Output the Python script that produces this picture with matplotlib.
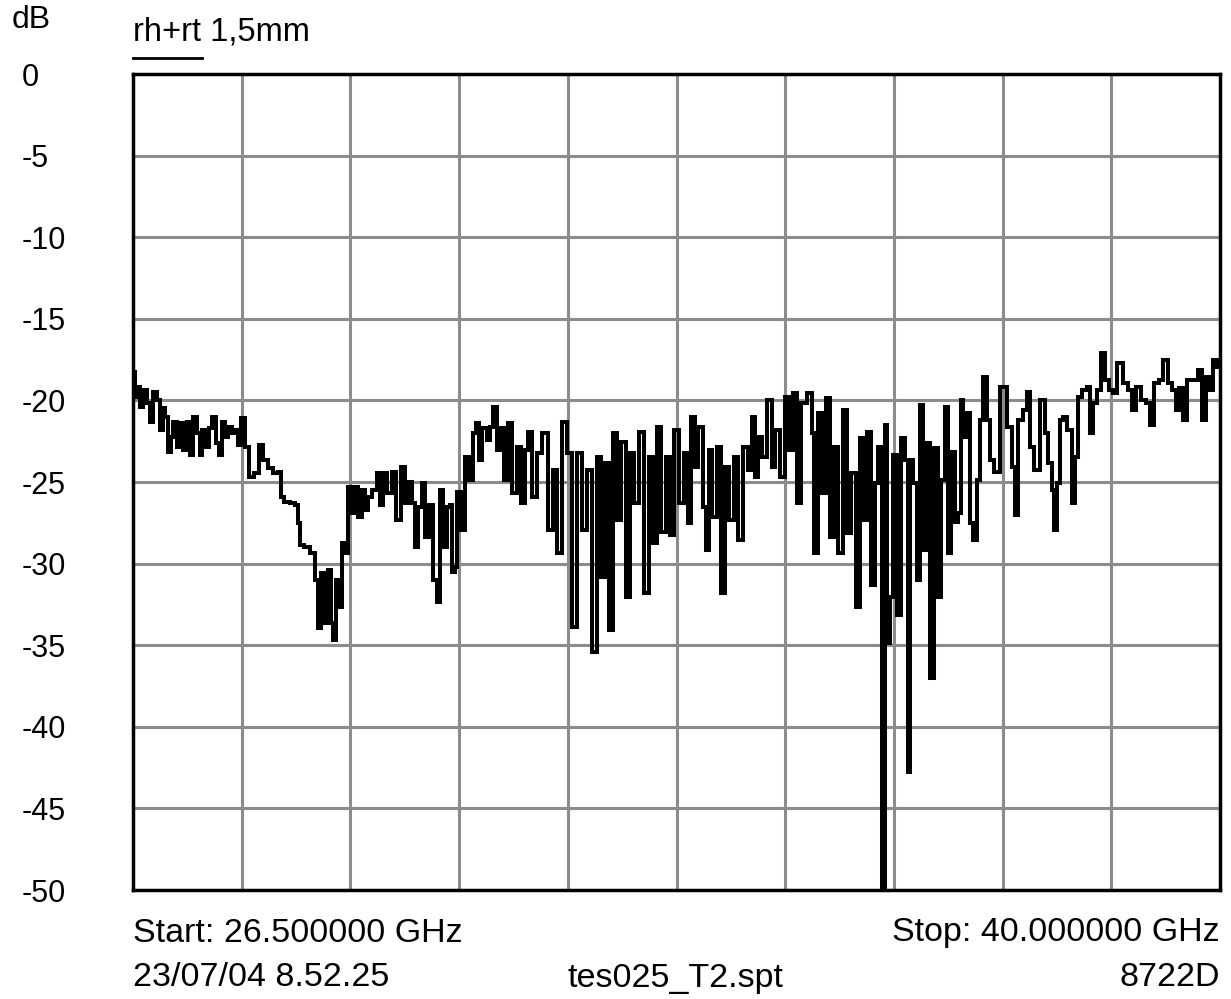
import numpy as np
import matplotlib
matplotlib.use("Agg")
from matplotlib import pyplot as plt

plt.rcParams['font.family'] = ['Liberation Sans', 'DejaVu Sans']

# frekvens (GHz) och nivå (dB)
freq_ghz = [
    26.50, 26.546, 26.567, 26.608, 26.649, 26.691, 26.732, 26.774, 26.815, 26.856,
    26.877, 26.918, 26.952, 26.981, 27.022, 27.063, 27.105, 27.146, 27.188, 27.229,
    27.270, 27.312, 27.341, 27.382, 27.423, 27.465, 27.506, 27.548, 27.581, 27.622,
    27.664, 27.705, 27.746, 27.788, 27.821, 27.871, 27.912, 27.974, 28.036, 28.098,
    28.140, 28.202, 28.264, 28.326, 28.347, 28.409, 28.492, 28.533, 28.574, 28.583,
    28.657, 28.740, 28.781, 28.815, 28.856, 28.897, 28.939, 28.968, 29.009, 29.038,
    29.079, 29.104, 29.154, 29.195, 29.237, 29.278, 29.320, 29.361, 29.402,
    29.443, 29.505, 29.547, 29.588, 29.629, 29.691, 29.733, 29.795, 29.857, 29.898,
    29.940, 29.981, 30.023, 30.064, 30.105, 30.147, 30.209, 30.250, 30.292, 30.333,
    30.375, 30.416, 30.457, 30.478, 30.519, 30.540, 30.602, 30.644, 30.706, 30.747,
    30.776, 30.809, 30.871, 30.913, 30.954, 30.996, 31.037, 31.078, 31.140, 31.182,
    31.244, 31.285, 31.347, 31.389, 31.430, 31.492, 31.554, 31.617, 31.679, 31.741,
    31.803, 31.865, 31.927, 31.989, 32.051, 32.113, 32.175, 32.238, 32.279, 32.341,
    32.382, 32.444,
    32.486, 32.528, 32.590, 32.652, 32.693, 32.755, 32.817, 32.879, 32.942, 32.983,
    33.024, 33.086, 33.149, 33.190, 33.252, 33.314, 33.376, 33.405, 33.459, 33.500,
    33.542, 33.604, 33.633, 33.666, 33.728, 33.770, 33.832, 33.873, 33.935, 33.997,
    34.039, 34.101, 34.163, 34.204, 34.246, 34.287, 34.349, 34.411, 34.453, 34.494,
    34.577, 34.618, 34.680, 34.722, 34.776, 34.825, 34.908, 34.949, 34.978, 35.032,
    35.082, 35.136, 35.177, 35.227, 35.281, 35.343, 35.393, 35.446, 35.508,
    35.550, 35.591, 35.633, 35.695, 35.736, 35.778, 35.819, 35.852, 35.881, 35.923,
    35.964, 36.005, 36.067, 36.109, 36.130, 36.171, 36.212, 36.254, 36.295, 36.337,
    36.378, 36.419, 36.481, 36.510, 36.564, 36.606, 36.635, 36.688, 36.730, 36.771,
    36.792, 36.833, 36.875, 36.916, 36.958, 36.999, 37.040, 37.082, 37.123, 37.165,
    37.227, 37.309, 37.392, 37.434, 37.475, 37.516, 37.579, 37.620, 37.661, 37.723,
    37.805, 37.847, 37.888, 37.930, 37.950, 37.992, 38.033, 38.075, 38.137, 38.178,
    38.219, 38.261, 38.323, 38.364, 38.406, 38.447, 38.489, 38.551, 38.592, 38.654,
    38.696, 38.758, 38.840, 38.882, 38.923, 38.985, 39.047, 39.110, 39.151, 39.213,
    39.275, 39.317, 39.379, 39.441, 39.461, 39.524, 39.565, 39.627, 39.710, 39.751,
    39.813, 39.834, 39.896, 39.937, 39.979, 40.00,
]
level_db = [
    -18.24, -19.77, -19.16, -20.38, -19.36, -20.18, -21.30, -19.46, -19.97, -21.81,
    -20.48, -20.99, -23.14, -22.22, -21.30, -22.83, -21.40, -23.04, -21.30, -23.34,
    -20.99, -22.02, -23.34, -21.81, -22.83, -21.71, -20.99, -22.63, -23.34, -21.30,
    -22.22, -21.61, -22.02, -21.81, -22.73, -21.10, -22.83, -24.67, -24.47, -22.73,
    -23.65, -24.16, -24.47, -24.36, -25.89, -26.20, -26.30, -26.41, -27.53, -28.86,
    -28.96, -29.37, -31.00, -33.96, -30.59, -33.65, -30.39, -33.65, -34.68, -31.00,
    -32.63, -28.75, -29.37, -25.28, -26.92, -25.28, -27.12, -25.49, -26.71,
    -25.89, -25.49, -24.47, -26.41, -24.47, -25.69, -24.36, -27.32, -24.06, -26.30,
    -24.98, -26.30, -28.96, -26.51, -25.08, -28.35, -26.41, -31.00, -32.33, -25.49,
    -28.96, -26.51, -26.41, -30.49, -30.18, -25.59, -27.94, -23.44, -24.87, -22.02,
    -21.40, -23.65, -21.71, -22.42, -21.61, -20.38, -23.04, -21.71, -24.87, -21.40,
    -25.69, -22.83, -26.30, -23.04, -21.91, -25.89, -23.24, -22.02, -27.94, -24.26,
    -29.37, -21.30, -23.24, -33.86, -23.24, -27.94, -24.26, -35.39, -23.44, -30.80,
    -23.85, -34.06,
    -22.02, -27.32, -22.53, -32.02, -23.24, -26.30, -21.91, -31.82, -23.44, -28.75,
    -21.61, -28.04, -23.44, -28.24, -21.81, -26.30, -23.24, -27.53, -20.99, -24.06,
    -21.61, -26.51, -29.16, -23.04, -27.12, -22.83, -31.82, -24.06, -27.32, -23.44,
    -28.55, -22.83, -24.26, -20.99, -24.67, -22.22, -23.44, -19.97, -24.06, -21.81,
    -24.67, -19.77, -23.04, -19.56, -26.30, -20.18, -19.56, -22.02, -29.37, -20.79,
    -25.69, -19.87, -28.35, -22.83, -29.37, -20.59, -28.14, -24.47, -32.63,
    -22.32, -27.32, -21.91, -31.31, -25.08, -22.83, -51.00, -21.50, -34.88, -32.02,
    -23.34, -33.14, -22.32, -23.65, -42.74, -23.65, -25.08, -31.00, -20.28, -29.16,
    -22.63, -37.02, -22.93, -32.02, -24.87, -20.38, -29.37, -23.14, -27.43, -26.92,
    -19.97, -22.22, -20.79, -27.53, -28.55, -24.87, -21.20, -18.54, -21.20, -23.65,
    -24.36, -19.16, -21.61, -24.06, -27.02, -21.20, -20.59, -19.46, -22.83, -24.26,
    -19.98, -22.02, -23.86, -25.49, -27.94, -25.08, -21.20, -21.00, -21.82, -26.31,
    -23.45, -19.77, -19.37, -19.16, -22.02, -20.18, -19.37, -17.12, -18.75, -19.37,
    -19.57, -17.73, -18.96, -19.37, -20.59, -19.16, -19.98, -20.18, -21.51, -18.96,
    -18.75, -17.53, -18.96, -19.37, -20.59, -19.26, -21.20, -18.75, -18.75, -18.14,
    -21.20, -18.55, -19.37, -17.53, -17.94, -17.90,
]
y_ticks = [0, -5, -10, -15, -20, -25, -30, -35, -40, -45, -50]
f_start, f_stop = 26.5, 40.0

fig = plt.figure(figsize=(12.31, 9.99), dpi=100)
ax = fig.add_axes([133 / 1231, 1 - 890 / 999, (1220 - 133) / 1231, (890 - 74) / 999])

ax.plot(freq_ghz, level_db, color='black', linewidth=2.9, drawstyle='steps-mid',
        solid_joinstyle='miter', zorder=3)

ax.set_xlim(f_start, f_stop)
ax.set_ylim(-50, 0)
ax.set_xticks(np.linspace(f_start, f_stop, 11))
ax.set_xticklabels([])
ax.set_yticks(y_ticks)
ax.set_yticklabels([str(t) for t in y_ticks], fontsize=22)
ax.tick_params(axis='both', length=0)
ax.tick_params(axis='y', pad=80)
for lab in ax.get_yticklabels():
    lab.set_horizontalalignment('left')
ax.grid(True, color='#8c8c8c', linewidth=2.2, zorder=1)
for s in ax.spines.values():
    s.set_linewidth(2.5)
    s.set_color('black')

fig.text(12 / 1231, 1 - 20 / 999, 'dB', fontsize=23, va='center', ha='left')
fig.text(133 / 1231, 1 - 32 / 999, 'rh+rt 1,5mm', fontsize=23.5, va='center', ha='left')
fig.add_artist(plt.Line2D([133 / 1231, 202 / 1231], [1 - 58 / 999, 1 - 58 / 999],
                          color='black', linewidth=2))
fig.text(133 / 1231, 1 - 933 / 999, 'Start: 26.500000 GHz', fontsize=24.5, va='center', ha='left')
fig.text(1220 / 1231, 1 - 933 / 999, 'Stop: 40.000000 GHz', fontsize=24.5, va='center', ha='right')
fig.text(133 / 1231, 1 - 978 / 999, '23/07/04 8.52.25', fontsize=24.5, va='center', ha='left')
fig.text(676 / 1231, 1 - 978 / 999, 'tes025_T2.spt', fontsize=24.5, va='center', ha='center')
fig.text(1220 / 1231, 1 - 978 / 999, '8722D', fontsize=24.5, va='center', ha='right')

fig.savefig('out.png', dpi=100)
